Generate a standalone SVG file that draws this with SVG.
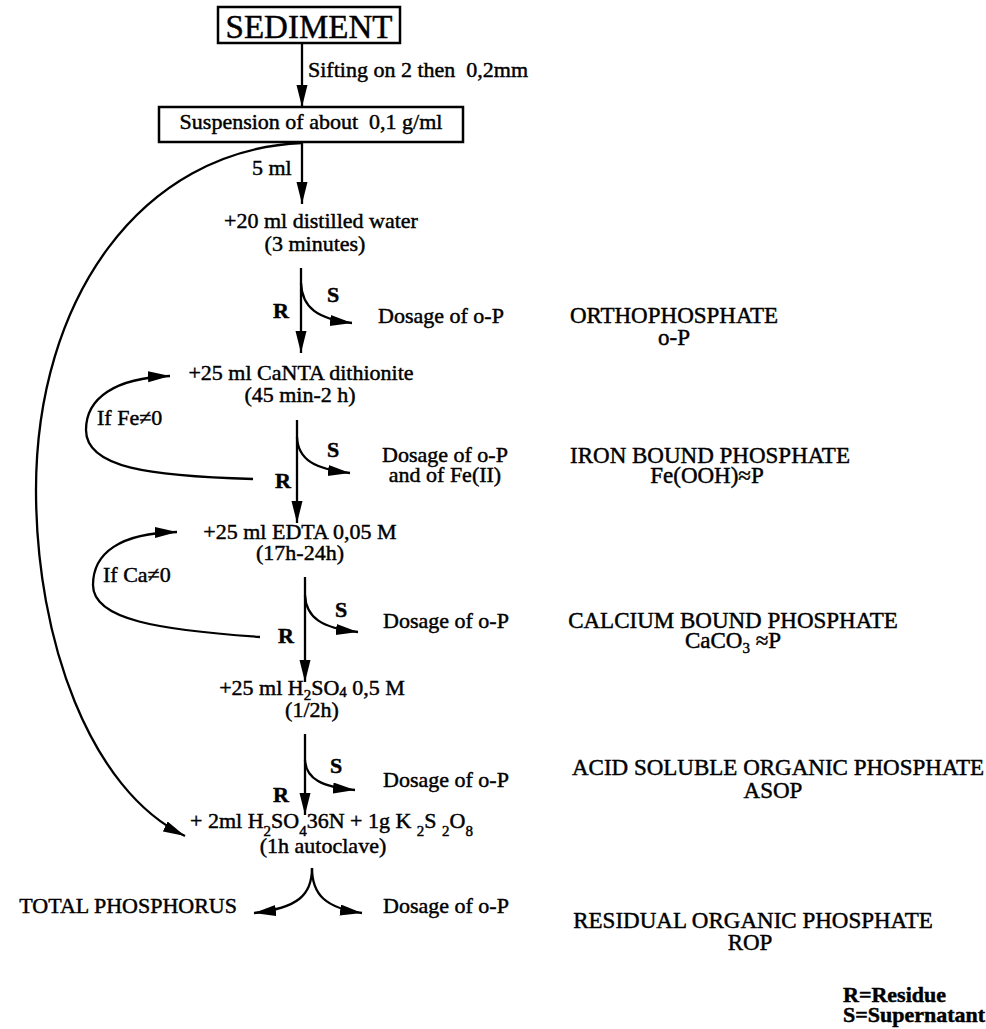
<svg xmlns="http://www.w3.org/2000/svg" width="986" height="1029" viewBox="0 0 986 1029">
<style>
text{font-family:"Liberation Serif","Times New Roman",serif;font-size:22px;fill:#000;stroke:#000;stroke-width:0.45}
.big{font-size:33px}
.cat{font-size:23px}
.b{font-weight:bold}
.m{text-anchor:middle}
.sub{font-size:15px}
.box{fill:#fff;stroke:#000;stroke-width:2.5}
.c{fill:none;stroke:#000;stroke-width:2.3}
</style>
<defs>
<marker id="ah" markerUnits="userSpaceOnUse" markerWidth="24" markerHeight="12" refX="22" refY="5.5" orient="auto">
<path d="M0,0 L22,5.5 L0,11 z" fill="#000"/>
</marker>
</defs>
<rect width="986" height="1029" fill="#fff"/>

<g id="connectors">
<path class="c" d="M302,43 L302,107" marker-end="url(#ah)"/>
<path class="c" d="M302,142 L302,204" marker-end="url(#ah)"/>
<path class="c" d="M301,268 L301,353" marker-end="url(#ah)"/>
<path class="c" d="M301,283 C302,308 318,319 352,323" marker-end="url(#ah)"/>
<path class="c" d="M297,420 L297,523" marker-end="url(#ah)"/>
<path class="c" d="M297,437 C298,460 315,469 350,473" marker-end="url(#ah)"/>
<path class="c" d="M253,479 C150,476 86,468 86,430 C86,398 115,378 170,376" marker-end="url(#ah)"/>
<path class="c" d="M305,577 L305,682" marker-end="url(#ah)"/>
<path class="c" d="M305,595 C306,618 322,628 358,632" marker-end="url(#ah)"/>
<path class="c" d="M260,637 C160,630 93,620 93,585 C93,553 120,533 177,532" marker-end="url(#ah)"/>
<path class="c" d="M305,734 L305,815" marker-end="url(#ah)"/>
<path class="c" d="M305,760 C306,779 322,787 355,790" marker-end="url(#ah)"/>
<path class="c" d="M302,143 C140,150 36,300 36,490 C36,640 90,790 185,836" marker-end="url(#ah)"/>
<path class="c" d="M312,868 C312,895 298,908 254,913" marker-end="url(#ah)"/>
<path class="c" d="M312,868 C312,895 326,908 362,913" marker-end="url(#ah)"/>
</g>

<g id="sediment">
<rect class="box" x="218" y="7" width="182" height="36"/>
<text class="big m" x="309" y="38">SEDIMENT</text>
</g>
<g id="sifting-label"><text x="308" y="77" xml:space="preserve">Sifting on 2 then  0,2mm</text></g>
<g id="suspension">
<rect class="box" x="159" y="107" width="304" height="35"/>
<text class="m" x="311" y="129" xml:space="preserve">Suspension of about  0,1 g/ml</text>
</g>
<g id="five-ml"><text x="252" y="175">5 ml</text></g>

<g id="step-water">
<text class="m" x="321" y="228">+20 ml distilled water</text>
<text class="m" x="315" y="251">(3 minutes)</text>
</g>
<g id="rs-1">
<text class="b" x="273" y="318">R</text>
<text class="b" x="327" y="302">S</text>
<text x="378" y="323">Dosage of o-P</text>
</g>
<g id="cat-ortho">
<text class="m cat" x="674" y="323">ORTHOPHOSPHATE</text>
<text class="m cat" x="674" y="345">o-P</text>
</g>

<g id="step-canta">
<text class="m" x="301" y="380">+25 ml CaNTA dithionite</text>
<text class="m" x="300" y="402">(45 min-2 h)</text>
</g>
<g id="loop-fe"><text x="97" y="425">If Fe≠0</text></g>
<g id="rs-2">
<text class="b" x="327" y="457">S</text>
<text class="b" x="275" y="488">R</text>
<text class="m" x="445" y="462">Dosage of o-P</text>
<text class="m" x="445" y="482">and of Fe(II)</text>
</g>
<g id="cat-iron">
<text class="m cat" x="710" y="463">IRON BOUND PHOSPHATE</text>
<text class="m cat" x="707" y="483">Fe(OOH)≈P</text>
</g>

<g id="step-edta">
<text class="m" x="300" y="539">+25 ml EDTA 0,05 M</text>
<text class="m" x="300" y="560">(17h-24h)</text>
</g>
<g id="loop-ca"><text x="103" y="582">If Ca≠0</text></g>
<g id="rs-3">
<text class="b" x="335" y="617">S</text>
<text class="b" x="278" y="643">R</text>
<text x="383" y="628">Dosage of o-P</text>
</g>
<g id="cat-calcium">
<text class="m cat" x="733" y="628">CALCIUM BOUND PHOSPHATE</text>
<text class="m cat" x="733" y="648">CaCO<tspan class="sub" dy="5">3</tspan><tspan dy="-5"> ≈P</tspan></text>
</g>

<g id="step-h2so4">
<text class="m" x="312" y="695">+25 ml H<tspan class="sub" dy="5">2</tspan><tspan dy="-5">SO</tspan><tspan class="sub" dy="2">4</tspan><tspan dy="-2"> 0,5 M</tspan></text>
<text class="m" x="312" y="717">(1/2h)</text>
</g>
<g id="rs-4">
<text class="b" x="330" y="773">S</text>
<text class="b" x="273" y="802">R</text>
<text x="383" y="787">Dosage of o-P</text>
</g>
<g id="cat-asop">
<text class="m cat" x="778" y="775">ACID SOLUBLE ORGANIC PHOSPHATE</text>
<text class="m cat" x="773" y="798">ASOP</text>
</g>

<g id="step-autoclave">
<text x="190" y="828" xml:space="preserve">+ 2ml H<tspan class="sub" dy="8">2</tspan><tspan dy="-8">SO</tspan><tspan class="sub" dy="8">4</tspan><tspan dy="-8">36N + 1g K </tspan><tspan class="sub" dy="8">2</tspan><tspan dy="-8">S </tspan><tspan class="sub" dy="8">2</tspan><tspan dy="-8">O</tspan><tspan class="sub" dy="8">8</tspan></text>
<text class="m" x="323" y="853">(1h autoclave)</text>
</g>
<g id="total"><text x="237" y="913" style="text-anchor:end">TOTAL PHOSPHORUS</text></g>
<g id="dosage-final"><text x="383" y="913">Dosage of o-P</text></g>
<g id="cat-rop">
<text class="m cat" x="753" y="928">RESIDUAL ORGANIC PHOSPHATE</text>
<text class="m cat" x="750" y="950">ROP</text>
</g>

<g id="legend">
<text class="b" x="843" y="1002">R=Residue</text>
<text class="b" x="843" y="1022">S=Supernatant</text>
</g>
</svg>
